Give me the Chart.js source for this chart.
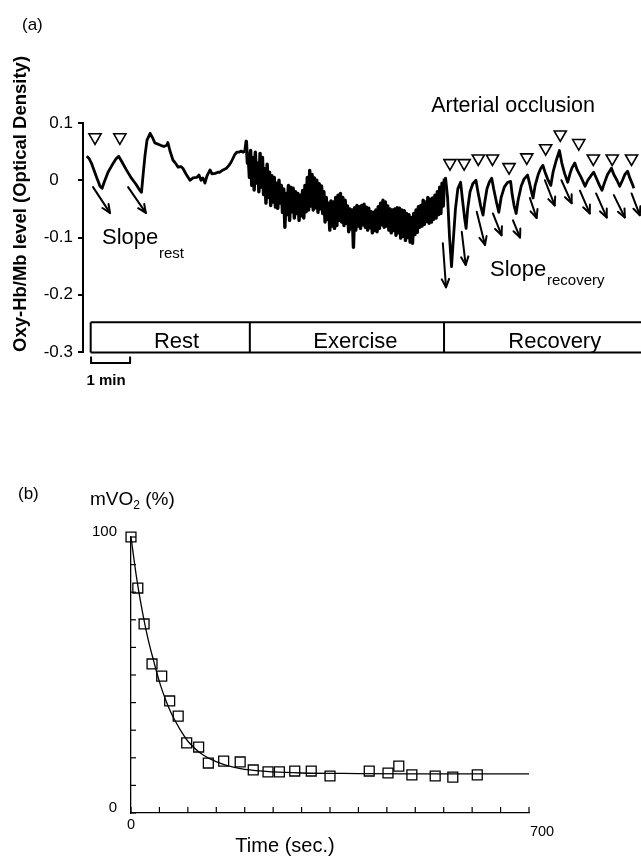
<!DOCTYPE html>
<html><head><meta charset="utf-8">
<script src="https://cdn.jsdelivr.net/npm/chart.js@4/dist/chart.umd.min.js"></script>
<style>
html,body{margin:0;padding:0;background:#fff;width:641px;height:861px;overflow:hidden}
#wrapA{position:absolute;left:0;top:0;width:641px;height:400px}
#wrapB{position:absolute;left:0;top:400px;width:641px;height:461px}
</style></head><body>
<div id="wrapA"><canvas id="cA" width="641" height="400"></canvas></div>
<div id="wrapB"><canvas id="cB" width="641" height="461"></canvas></div>
<script>
// ---------- Panel (a) data: time (min) , Oxy-Hb/Mb level (OD) ----------
const restTrace = [[-0.10,0.042],[-0.04,0.038],[0.03,0.028],[0.14,0.007],[0.24,-0.011],[0.29,-0.014],[0.34,-0.004],[0.44,0.014],[0.54,0.026],[0.64,0.037],[0.71,0.042],[0.77,0.035],[0.90,0.019],[1.02,0.005],[1.15,-0.007],[1.25,-0.018],[1.29,-0.021],[1.33,0.009],[1.38,0.044],[1.43,0.070],[1.51,0.082],[1.58,0.073],[1.63,0.065],[1.71,0.063],[1.78,0.061],[1.86,0.059],[1.93,0.061],[1.96,0.066],[2.01,0.052],[2.09,0.035],[2.14,0.031],[2.22,0.023],[2.29,0.024],[2.34,0.021],[2.42,0.011],[2.52,0.000],[2.60,0.004],[2.69,0.005],[2.75,0.009],[2.80,0.000],[2.85,0.004],[2.90,-0.005],[2.95,0.007],[3.03,0.018],[3.08,0.011],[3.16,0.012],[3.23,0.014],[3.28,0.014],[3.36,0.018],[3.45,0.021],[3.51,0.026],[3.56,0.031],[3.61,0.038],[3.66,0.045],[3.71,0.049],[3.76,0.049],[3.82,0.051],[3.87,0.049],[3.92,0.051]];
const exerciseTrace = [[3.95,0.068],[3.98,0.030],[4.00,0.046],[4.03,0.005],[4.06,0.052],[4.09,-0.009],[4.12,0.040],[4.15,-0.017],[4.18,0.049],[4.21,-0.005],[4.24,0.030],[4.27,-0.020],[4.30,0.047],[4.33,-0.012],[4.36,0.040],[4.39,-0.025],[4.42,0.020],[4.45,-0.040],[4.48,0.028],[4.51,-0.030],[4.54,0.014],[4.57,-0.044],[4.60,0.008],[4.63,-0.038],[4.66,0.005],[4.69,-0.047],[4.72,-0.005],[4.75,-0.049],[4.78,0.000],[4.81,-0.040],[4.84,-0.009],[4.87,-0.056],[4.90,-0.015],[4.93,-0.082],[4.96,-0.023],[4.99,-0.060],[5.02,-0.009],[5.05,-0.070],[5.08,-0.012],[5.11,-0.055],[5.14,-0.014],[5.17,-0.066],[5.20,-0.020],[5.23,-0.058],[5.26,-0.023],[5.29,-0.070],[5.32,-0.026],[5.35,-0.062],[5.38,-0.018],[5.41,-0.066],[5.44,-0.009],[5.47,-0.055],[5.50,0.005],[5.53,-0.052],[5.56,0.017],[5.59,-0.045],[5.62,0.010],[5.65,-0.052],[5.68,0.004],[5.71,-0.048],[5.74,0.000],[5.77,-0.056],[5.80,-0.006],[5.83,-0.050],[5.86,-0.010],[5.89,-0.058],[5.92,-0.020],[5.95,-0.073],[5.98,-0.030],[6.01,-0.068],[6.04,-0.040],[6.07,-0.087],[6.10,-0.036],[6.13,-0.080],[6.16,-0.038],[6.19,-0.084],[6.22,-0.030],[6.25,-0.079],[6.28,-0.026],[6.31,-0.070],[6.34,-0.023],[6.37,-0.073],[6.40,-0.030],[6.43,-0.079],[6.46,-0.035],[6.49,-0.075],[6.52,-0.045],[6.55,-0.090],[6.58,-0.050],[6.61,-0.085],[6.64,-0.052],[6.67,-0.117],[6.70,-0.048],[6.73,-0.087],[6.76,-0.044],[6.79,-0.080],[6.82,-0.046],[6.85,-0.084],[6.88,-0.044],[6.91,-0.078],[6.94,-0.042],[6.97,-0.082],[7.00,-0.047],[7.03,-0.087],[7.06,-0.049],[7.09,-0.083],[7.12,-0.055],[7.15,-0.092],[7.18,-0.056],[7.21,-0.088],[7.24,-0.052],[7.27,-0.090],[7.30,-0.046],[7.33,-0.084],[7.36,-0.040],[7.39,-0.078],[7.42,-0.035],[7.45,-0.082],[7.48,-0.038],[7.51,-0.080],[7.54,-0.045],[7.57,-0.087],[7.60,-0.050],[7.63,-0.092],[7.66,-0.052],[7.69,-0.088],[7.72,-0.050],[7.75,-0.096],[7.78,-0.048],[7.81,-0.092],[7.84,-0.049],[7.87,-0.101],[7.90,-0.052],[7.93,-0.098],[7.96,-0.053],[7.99,-0.105],[8.02,-0.058],[8.05,-0.100],[8.08,-0.060],[8.11,-0.108],[8.14,-0.065],[8.17,-0.110],[8.20,-0.058],[8.23,-0.095],[8.26,-0.052],[8.29,-0.091],[8.32,-0.046],[8.35,-0.082],[8.38,-0.044],[8.41,-0.080],[8.44,-0.035],[8.47,-0.077],[8.50,-0.038],[8.53,-0.072],[8.56,-0.030],[8.59,-0.075],[8.62,-0.033],[8.65,-0.073],[8.68,-0.031],[8.71,-0.068],[8.74,-0.026],[8.77,-0.066],[8.80,-0.020],[8.83,-0.060],[8.86,-0.012],[8.89,-0.058],[8.92,-0.005],[8.95,-0.045],[8.98,0.003]];
const recoveryTrace = [[9.01,0.0035],[9.06,-0.03],[9.11,-0.10],[9.16,-0.151],[9.20,-0.11],[9.26,-0.05],[9.32,-0.015],[9.39,-0.0035],[9.44,-0.035],[9.49,-0.065],[9.53,-0.084],[9.57,-0.05],[9.63,-0.02],[9.70,-0.006],[9.78,0.000],[9.83,-0.02],[9.90,-0.045],[9.96,-0.061],[10.00,-0.04],[10.06,-0.015],[10.12,-0.003],[10.18,0.0035],[10.23,-0.015],[10.30,-0.038],[10.36,-0.056],[10.42,-0.03],[10.50,-0.012],[10.58,-0.004],[10.66,-0.002],[10.70,-0.025],[10.75,-0.045],[10.80,-0.058],[10.85,-0.035],[10.93,-0.01],[11.00,0.002],[11.09,0.009],[11.14,-0.005],[11.19,-0.02],[11.23,-0.031],[11.28,-0.01],[11.36,0.01],[11.42,0.02],[11.48,0.026],[11.53,0.015],[11.60,0.002],[11.68,-0.009],[11.74,0.015],[11.82,0.035],[11.90,0.052],[11.96,0.03],[12.03,0.012],[12.11,-0.0035],[12.17,0.012],[12.22,0.022],[12.29,0.030],[12.35,0.018],[12.45,0.005],[12.55,-0.0105],[12.62,0.000],[12.70,0.008],[12.77,0.014],[12.84,0.003],[12.91,-0.008],[12.98,-0.0175],[13.04,-0.005],[13.12,0.010],[13.22,0.021],[13.28,0.010],[13.36,0.000],[13.43,-0.0105],[13.50,0.000],[13.56,0.010],[13.63,0.0157],[13.68,0.005],[13.74,-0.005],[13.79,-0.014]];
const occlusionMarkers = [[0.11,0.075],[0.74,0.075],[9.12,0.030],[9.48,0.030],[9.84,0.038],[10.20,0.038],[10.62,0.023],[11.07,0.040],[11.55,0.056],[11.92,0.080],[12.39,0.065],[12.76,0.038],[13.24,0.038],[13.73,0.038]];
const slopeArrows = [[0.06,-0.012,0.49,-0.057],[0.95,-0.012,1.40,-0.057],
  [8.94,-0.110,9.02,-0.187],[9.42,-0.090,9.52,-0.148],[9.80,-0.055,10.01,-0.113],[10.21,-0.058,10.43,-0.096],
  [10.72,-0.070,10.90,-0.100],[11.15,-0.031,11.32,-0.066],[11.53,0.000,11.78,-0.044],[11.95,0.000,12.21,-0.040],
  [12.42,-0.018,12.67,-0.058],[12.83,-0.023,13.10,-0.065],[13.28,-0.026,13.56,-0.065],[13.73,-0.023,13.94,-0.061]];
const phaseNames = ['Rest','Exercise','Recovery'];
const phaseBounds = [0, 4.04, 8.97, 13.97];
const phaseLabelAt = [2.18, 6.72, 11.78];
const phaseBoxLevels = [-0.248, -0.301];
const yTicksA = [-0.3, -0.2, -0.1, 0, 0.1];

// ---------- Panel (b) data ----------
const timeSec = [0,12,23,37,54,68,83,98,119,136,163,192,215,241,261,288,317,350,419,452,471,494,535,566,609];
const mvo2 = [100,81.5,68.5,54,49.6,40.6,35.1,25.4,23.9,18.1,18.8,18.5,15.6,14.9,14.9,15.2,15.2,13.4,15.2,14.5,17,13.8,13.4,13,13.8];
const fitTime = [0,10,20,30,40,50,60,70,80,90,100,120,140,160,180,200,250,300,400,500,600,700];
const fitValue = [100,85,73,63,55,47.5,41.5,36.5,32.5,29,26,22,19.5,17.8,16.6,15.8,14.9,14.5,14.3,14.2,14.2,14.2];

const FONT = "'Liberation Sans', Arial, Helvetica, sans-serif";
const toXY = a => a.map(p => ({x:p[0], y:p[1]}));

const boxPts = [];
phaseBoxLevels.forEach(lv => { boxPts.push({x:phaseBounds[0],y:lv},{x:phaseBounds[3],y:lv},{x:phaseBounds[3],y:null}); });
phaseBounds.slice(0,3).forEach(b => { boxPts.push({x:b,y:phaseBoxLevels[0]},{x:b,y:phaseBoxLevels[1]},{x:b+0.0001,y:null}); });
const bracketPts = [{x:0.01,y:-0.308},{x:0.01,y:-0.319},{x:1.0,y:-0.319},{x:1.0,y:-0.308}];

function drawArrow(ctx,x0,y0,x1,y1,head){
  ctx.beginPath(); ctx.moveTo(x0,y0); ctx.lineTo(x1,y1); ctx.stroke();
  const a = Math.atan2(y1-y0,x1-x0);
  ctx.beginPath();
  ctx.moveTo(x1-head*Math.cos(a-0.42), y1-head*Math.sin(a-0.42));
  ctx.lineTo(x1,y1);
  ctx.lineTo(x1-head*Math.cos(a+0.42), y1-head*Math.sin(a+0.42));
  ctx.stroke();
}

const pluginA = {
  id:'annA',
  afterDatasetsDraw(chart){
    const {ctx, scales:{x,y}} = chart;
    ctx.save();
    ctx.strokeStyle='#000'; ctx.lineWidth=2; ctx.lineCap='round'; ctx.lineJoin='round';
    slopeArrows.forEach(a => drawArrow(ctx, x.getPixelForValue(a[0]), y.getPixelForValue(a[1]), x.getPixelForValue(a[2]), y.getPixelForValue(a[3]), 9));
    ctx.restore();
  },
  afterDraw(chart){
    const {ctx, scales:{x,y}} = chart;
    ctx.save();
    ctx.fillStyle='#000'; ctx.textBaseline='alphabetic';
    ctx.textAlign='left';
    ctx.font = `17px ${FONT}`; ctx.fillText('(a)', 22, 30);
    ctx.textAlign='center';
    ctx.font = `21.5px ${FONT}`; ctx.fillText('Arterial occlusion', 513, 111.5);
    ctx.font = `22px ${FONT}`;
    phaseNames.forEach((n,i)=> ctx.fillText(n, x.getPixelForValue(phaseLabelAt[i]), 347.5));
    ctx.textAlign='left';
    ctx.font = `22px ${FONT}`; ctx.fillText('Slope', 102, 244);
    ctx.font = `15px ${FONT}`; ctx.fillText('rest', 159, 258);
    ctx.font = `22px ${FONT}`; ctx.fillText('Slope', 490, 276);
    ctx.font = `15px ${FONT}`; ctx.fillText('recovery', 547, 285);
    ctx.textAlign='center';
    ctx.font = `bold 15px ${FONT}`; ctx.fillText('1 min', 106, 385);
    ctx.restore();
  }
};

const lastOf = a => a[a.length-1];

new Chart(document.getElementById('cA'), {
  type:'line',
  data:{datasets:[
    {data: toXY(restTrace), borderColor:'#000', borderWidth:2.8, pointRadius:0, tension:0, clip:false, borderJoinStyle:'round'},
    {data: toXY([lastOf(restTrace)].concat(exerciseTrace)), borderColor:'#000', borderWidth:3.4, pointRadius:0, tension:0, clip:false, borderJoinStyle:'round'},
    {data: toXY([lastOf(exerciseTrace)].concat(recoveryTrace)), borderColor:'#000', borderWidth:2.8, pointRadius:0, tension:0, clip:false, borderJoinStyle:'round'},
    {data: toXY(occlusionMarkers), showLine:false, pointStyle:'triangle', rotation:180, pointRadius:7, backgroundColor:'#fff', borderColor:'#000', pointBorderWidth:1.6, clip:false},
    {data: boxPts, borderColor:'#000', borderWidth:2, pointRadius:0, spanGaps:false, clip:false, tension:0},
    {data: bracketPts, borderColor:'#000', borderWidth:2, pointRadius:0, clip:false, tension:0}
  ]},
  options:{
    responsive:false, animation:false, events:[],
    layout:{autoPadding:false, padding:{left:10, right:0, top:123, bottom:48}},
    plugins:{legend:{display:false}, tooltip:{enabled:false}},
    scales:{
      x:{type:'linear', display:false, min:-0.195, max:13.97},
      y:{type:'linear', min:-0.3, max:0.1,
        afterFit(s){ s.width = 73; },
        afterBuildTicks(s){ s.ticks = yTicksA.map(v=>({value:v})); },
        ticks:{color:'#000', font:{family:FONT, size:17}, padding:5,
          callback(v){ const r=Math.round(v*10)/10; return r===0 ? '0\u2008\u2007' : String(r); }},
        grid:{display:true, drawOnChartArea:false, drawTicks:true, tickLength:5, color:'#000', lineWidth:2},
        border:{display:true, color:'#000', width:2},
        title:{display:true, text:'Oxy-Hb/Mb level (Optical Density)', align:'start', color:'#000', font:{family:FONT, size:18.5, weight:'bold'}, padding:{top:0,bottom:0}}
      }
    }
  },
  plugins:[pluginA]
});

// ---------- Panel (b) ----------
const pluginB = {
  id:'annB',
  afterDraw(chart){
    const {ctx, scales:{x,y}} = chart;
    ctx.save();
    ctx.strokeStyle='#000'; ctx.lineWidth=1.2;
    y.ticks.forEach(t=>{ const py=y.getPixelForValue(t.value); ctx.beginPath(); ctx.moveTo(x.left,py); ctx.lineTo(x.left+5,py); ctx.stroke(); });
    x.ticks.forEach(t=>{ const px=x.getPixelForValue(t.value); ctx.beginPath(); ctx.moveTo(px,y.bottom); ctx.lineTo(px,y.bottom-6); ctx.stroke(); });
    ctx.fillStyle='#000'; ctx.textBaseline='middle'; ctx.textAlign='center';
    ctx.font = `14.5px ${FONT}`;
    ctx.fillText('0', x.getPixelForValue(0), y.bottom+12);
    ctx.fillText('700', x.getPixelForValue(700)+13, y.bottom+19);
    ctx.textBaseline='alphabetic';
    ctx.font = `20px ${FONT}`; ctx.fillText('Time (sec.)', 285, 452);
    ctx.textAlign='left';
    ctx.font = `17px ${FONT}`; ctx.fillText('(b)', 18, 99);
    ctx.font = `19px ${FONT}`; ctx.fillText('mVO', 90, 105);
    let w = ctx.measureText('mVO').width;
    ctx.font = `12px ${FONT}`; ctx.fillText('2', 90+w, 109);
    let w2 = ctx.measureText('2').width;
    ctx.font = `19px ${FONT}`; ctx.fillText(' (%)', 90+w+w2, 105);
    ctx.restore();
  }
};

new Chart(document.getElementById('cB'), {
  type:'line',
  data:{datasets:[
    {data: fitTime.map((t,i)=>({x:t,y:fitValue[i]})), borderColor:'#000', borderWidth:1.3, pointRadius:0, tension:0.4, cubicInterpolationMode:'monotone', clip:false},
    {data: timeSec.map((t,i)=>({x:t,y:mvo2[i]})), showLine:false, pointStyle:'rect', pointRadius:7, backgroundColor:'rgba(0,0,0,0)', borderColor:'#000', pointBorderWidth:1.3, clip:false}
  ]},
  options:{
    responsive:false, animation:false, events:[],
    layout:{autoPadding:false, padding:{left:91, right:112, top:137, bottom:18}},
    plugins:{legend:{display:false}, tooltip:{enabled:false}},
    scales:{
      x:{type:'linear', min:0, max:700, afterFit(s){ s.height=30; },
        ticks:{display:false, stepSize:50}, grid:{display:false}, border:{display:true, color:'#000', width:1.3}},
      y:{type:'linear', min:0, max:100, afterFit(s){ s.width=40; },
        ticks:{stepSize:10, color:'#000', font:{family:FONT, size:15}, padding:6, labelOffset:-5.5, autoSkip:false,
          callback(v){ return (v===0||v===100) ? String(v) : ''; }},
        grid:{display:false}, border:{display:true, color:'#000', width:1.3}}
    }
  },
  plugins:[pluginB]
});
</script>
</body></html>
